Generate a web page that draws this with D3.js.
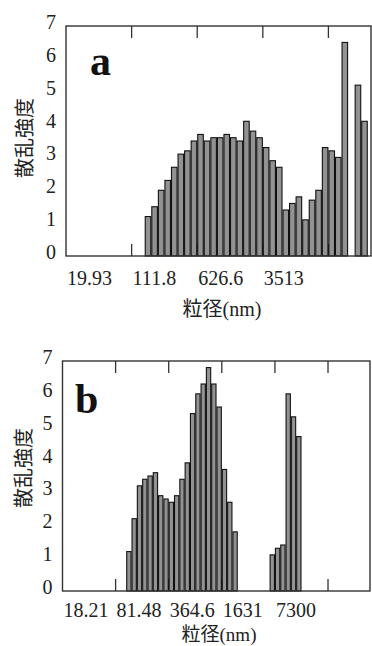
<!DOCTYPE html>
<html>
<head>
<meta charset="utf-8">
<script src="https://cdn.jsdelivr.net/npm/d3@7"></script>
<style>
  html, body { margin: 0; padding: 0; background: #fff; }
  svg { display: block; }
</style>
</head>
<body>
<svg id="chart" width="372" height="646"></svg>
<script>
// ---- Panel a: log-spaced size bins (nm) and scattering intensity ----
const edgesA = [157.82, 187.51, 222.80, 264.72, 314.52, 373.69, 444.0, 527.5, 626.7, 744.6,
  884.7, 1051.1, 1248.9, 1483.9, 1763.1, 2094.7, 2488.8, 2957.0, 3513.4, 4174.4,
  4959.7, 5892.7, 7001.3, 8318.5, 9883.4, 11743, 13952, 16577, 19696, 23401,
  27804, 33035, 39250, 46634, 55407];
const intensityA = [1.2, 1.5, 2.0, 2.3, 2.7, 3.1, 3.2, 3.5, 3.7, 3.5,
  3.6, 3.6, 3.7, 3.6, 3.5, 4.1, 3.8, 3.6, 3.3, 2.9,
  2.7, 1.4, 1.6, 1.8, 1.1, 1.7, 2.0, 3.3, 3.2, 3.0,
  6.5, null, 5.2, 4.1];
const tickValuesA = [19.93, 111.8, 626.6, 3513, 19690];
const tickLabelsA = ["19.93", "111.8", "626.6", "3513", ""];
const domainA = [19.93, 60300];

// ---- Panel b ----
const edgesB = [109.95, 127.73, 148.38, 172.37, 200.23, 232.60, 270.20, 313.88, 364.62, 423.57,
  492.05, 571.60, 664.01, 771.35, 896.05, 1040.9, 1209.2, 1404.7, 1631.8, 1895.6,
  2202.1, 2558.1, 2971.6, 3452.0, 4010.1, 4658.4, 5411.5, 6286.3, 7302.6, 8483.2,
  9854.6, 11448, 13299, 15449];
const intensityB = [1.2, 2.2, 3.2, 3.4, 3.5, 3.6, 2.9, 2.8, 2.7, 2.9,
  3.4, 3.9, 5.4, 6.0, 6.3, 6.8, 6.3, 5.6, 3.7, 2.7,
  1.8, null, null, null, null, null, null, 1.1, 1.3, 1.4,
  6.0, 5.3, 4.7];
const tickValuesB = [18.21, 81.48, 364.6, 1631, 7300, 32660];
const tickLabelsB = ["18.21", "81.48", "364.6", "1631", "7300", ""];
const domainB = [18.21, 106800];

const yTicks = [0, 1, 2, 3, 4, 5, 6, 7];
const yTitle = "散乱強度";
const xTitleMain = "粒径";
const xTitleUnit = "(nm)";

const serif = "'Liberation Serif', 'Times New Roman', serif";
const cjk = "'Noto Sans CJK JP', 'Noto Sans CJK SC', sans-serif";

const svg = d3.select("#chart");
svg.append("rect").attr("width", 372).attr("height", 646).attr("fill", "#fff");

function drawPanel(p) {
  const g = svg.append("g");
  const x = d3.scaleLog().domain(p.domain).range([p.left, p.right]);
  const y = d3.scaleLinear().domain([0, 7]).range([p.bottom, p.top]);

  const bins = p.values.map((v, i) => ({ v, x0: p.edges[i], x1: p.edges[i + 1] }))
    .filter(d => d.v != null);

  // inward tick marks on top and bottom edges
  const tickLen = 12;
  g.selectAll("line.tt").data(p.tickValues.slice(1)).join("line")
    .attr("x1", d => x(d)).attr("x2", d => x(d))
    .attr("y1", p.top).attr("y2", p.top + tickLen)
    .attr("stroke", "#333").attr("stroke-width", 1.3);
  g.selectAll("line.bt").data(p.tickValues.slice(1)).join("line")
    .attr("x1", d => x(d)).attr("x2", d => x(d))
    .attr("y1", p.bottom).attr("y2", p.bottom - tickLen)
    .attr("stroke", "#333").attr("stroke-width", 1.3);

  // histogram bars
  g.selectAll("rect.bar").data(bins).join("rect")
    .attr("class", "bar")
    .attr("x", d => x(d.x0) + 0.5)
    .attr("width", d => x(d.x1) - x(d.x0) - 1)
    .attr("y", d => y(d.v))
    .attr("height", d => y(0) - y(d.v))
    .attr("fill", "#929292")
    .attr("stroke", "#111")
    .attr("stroke-width", 1.1);

  // frame
  g.append("rect")
    .attr("x", p.left).attr("y", p.top)
    .attr("width", p.right - p.left).attr("height", p.bottom - p.top)
    .attr("fill", "none").attr("stroke", "#333").attr("stroke-width", 1.4);

  // y tick labels
  g.selectAll("text.yl").data(yTicks).join("text")
    .attr("x", p.left - 10).attr("y", d => y(d) + 3)
    .attr("text-anchor", "end")
    .attr("font-family", serif).attr("font-size", 20).attr("fill", "#222")
    .text(d => d);

  // x tick labels, left-aligned at each tick
  g.selectAll("text.xl").data(p.tickValues).join("text")
    .attr("x", d => x(d) + 1).attr("y", p.bottom + p.tickLabelGap)
    .attr("font-family", serif).attr("font-size", 20).attr("fill", "#222")
    .text((d, i) => p.tickLabels[i]);

  // x title
  const xt = g.append("text")
    .attr("x", p.xTitleX).attr("y", p.xTitleY)
    .attr("text-anchor", "middle").attr("fill", "#222");
  xt.append("tspan").attr("font-family", cjk).attr("font-size", p.xTitleSize).text(xTitleMain);
  xt.append("tspan").attr("font-family", serif).attr("font-size", p.xTitleSize).text(xTitleUnit);

  // y title
  g.append("text")
    .attr("transform", `translate(${p.yTitleX},${p.yTitleY}) rotate(-90)`)
    .attr("text-anchor", "middle")
    .attr("font-family", cjk).attr("font-size", 20).attr("fill", "#222")
    .text(yTitle);

  // panel letter
  g.append("text")
    .attr("x", p.letterX).attr("y", p.letterY)
    .attr("font-family", serif).attr("font-weight", "bold")
    .attr("font-size", 42).attr("fill", "#111")
    .text(p.letter);
}

drawPanel({
  edges: edgesA, values: intensityA, tickValues: tickValuesA, tickLabels: tickLabelsA,
  domain: domainA, left: 66, right: 371, top: 26, bottom: 256, tickLabelGap: 29,
  xTitleX: 222, xTitleY: 316, xTitleSize: 20, yTitleX: 32, yTitleY: 138,
  letter: "a", letterX: 90, letterY: 75
});

drawPanel({
  edges: edgesB, values: intensityB, tickValues: tickValuesB, tickLabels: tickLabelsB,
  domain: domainB, left: 62.5, right: 370, top: 361, bottom: 591, tickLabelGap: 26,
  xTitleX: 219, xTitleY: 641, xTitleSize: 19, yTitleX: 31, yTitleY: 468,
  letter: "b", letterX: 75, letterY: 413
});
</script>
</body>
</html>
